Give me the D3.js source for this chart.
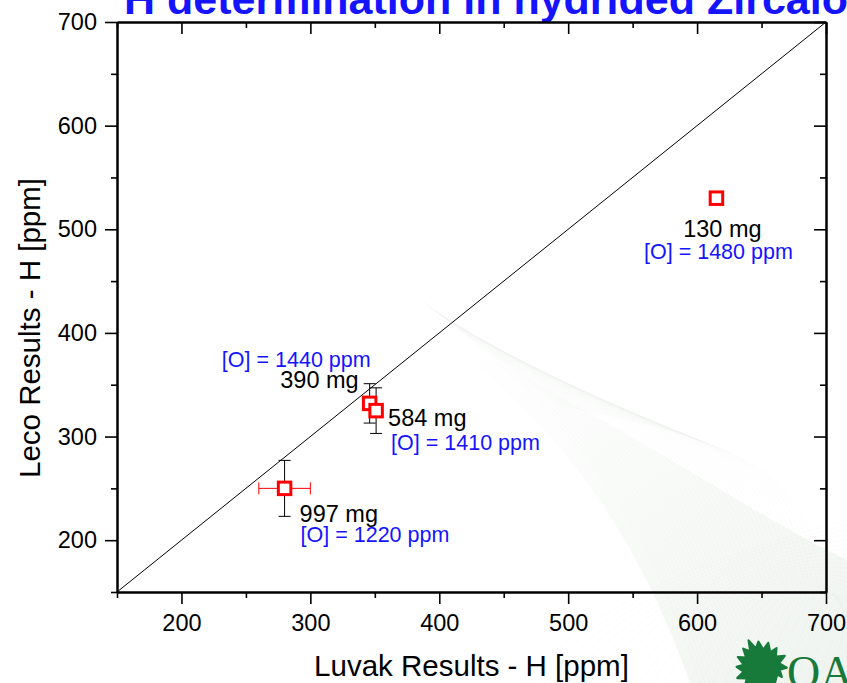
<!DOCTYPE html>
<html>
<head>
<meta charset="utf-8">
<script src="https://cdn.jsdelivr.net/npm/d3@7"></script>
<style>
  html, body { margin: 0; padding: 0; background: #fff; overflow: hidden; }
  svg { display: block; font-family: "Liberation Sans", Arial, sans-serif; }
</style>
</head>
<body>
<svg id="chart" width="847" height="683"></svg>
<script>
// Sample labels (mass) and oxygen content
const sampleMass = ["130 mg", "390 mg", "584 mg", "997 mg"];
const oxygenLabel = ["[O] = 1480 ppm", "[O] = 1440 ppm", "[O] = 1410 ppm", "[O] = 1220 ppm"];
// Hydrogen results, Luvak (x) vs Leco (y), in ppm
const luvakH = [615, 346, 351, 280];
const lecoH = [530, 332, 325, 250];
// Error bars (ppm); 0 = none
const luvakErr = [0, 0, 0, 20];
const lecoErr = [0, 19, 22, 27];
// Axis ticks
const majorTicks = [200, 300, 400, 500, 600, 700];
const minorTicks = [150, 250, 350, 450, 550, 650];
const axisDomain = [150, 700];

// Label placement relative to each marker (pixels)
const labelLayout = [
  { m: { dx: 6, dy: 39, anchor: "middle" }, o: { dx: 2, dy: 61, anchor: "middle" } },
  { m: { dx: -11, dy: -15, anchor: "end" }, o: { dx: 1, dy: -36, anchor: "end" } },
  { m: { dx: 12, dy: 15, anchor: "start" }, o: { dx: 15, dy: 39, anchor: "start" } },
  { m: { dx: 15, dy: 34, anchor: "start" }, o: { dx: 16, dy: 54, anchor: "start" } }
];

const BLUE = "#1414ff";
const svg = d3.select("#chart");
const plot = { left: 117, right: 826, top: 22, bottom: 592 };
const x = d3.scaleLinear().domain(axisDomain).range([plot.left, plot.right]);
const y = d3.scaleLinear().domain(axisDomain).range([plot.bottom, plot.top]);

// Faint background decoration (lower right swoosh)
const deco = svg.append("g");
const defs = svg.append("defs");
const grad = defs.append("linearGradient").attr("id", "swoosh").attr("x1", "0").attr("y1", "0").attr("x2", "1").attr("y2", "1");
grad.append("stop").attr("offset", "0").attr("stop-color", "#f6f9f6").attr("stop-opacity", 0);
grad.append("stop").attr("offset", "0.6").attr("stop-color", "#f1f5f1").attr("stop-opacity", 0.6);
grad.append("stop").attr("offset", "1").attr("stop-color", "#ecf2ec").attr("stop-opacity", 0.8);
deco.append("path")
  .attr("d", "M430,330 C560,420 640,540 690,683 L847,683 L847,560 C760,520 620,420 430,330 Z")
  .attr("fill", "url(#swoosh)");
for (let i = 0; i < 40; i++) {
  const s = i * 9;
  deco.append("path")
    .attr("d", `M${420 + s * 0.4},${300 + s * 0.3} C${560 + s},${400 + s * 0.2} ${650 + s * 0.3},${520 + s * 0.1} ${700 + s * 0.5},683`)
    .attr("fill", "none")
    .attr("stroke", "#c3d3c3")
    .attr("stroke-opacity", 0.1)
    .attr("stroke-width", 0.6);
}
for (let i = 0; i < 30; i++) {
  const s = i * 12;
  deco.append("path")
    .attr("d", `M${520 + s},683 C${600 + s * 0.8},600 ${700 + s * 0.5},560 847,${520 + s * 0.4}`)
    .attr("fill", "none")
    .attr("stroke", "#c3d3c3")
    .attr("stroke-opacity", 0.1)
    .attr("stroke-width", 0.6);
}

// Title (runs past the top edge)
svg.append("text")
  .attr("x", 124).attr("y", 14)
  .attr("fill", BLUE)
  .attr("font-size", 43).attr("font-weight", "bold")
  .text("H determination in hydrided Zircaloy");

// Diagonal 1:1 line
defs.append("clipPath").attr("id", "plotClip").append("rect")
  .attr("x", plot.left).attr("y", plot.top)
  .attr("width", plot.right - plot.left).attr("height", plot.bottom - plot.top);
svg.append("line")
  .attr("clip-path", "url(#plotClip)")
  .attr("x1", x(axisDomain[0])).attr("y1", y(axisDomain[0]))
  .attr("x2", x(axisDomain[1])).attr("y2", y(axisDomain[1]))
  .attr("stroke", "#000").attr("stroke-width", 1);

// Axes
function styleAxis(g) {
  g.select(".domain").attr("stroke", "#000").attr("stroke-width", 2);
  g.selectAll(".tick line").attr("stroke", "#000").attr("stroke-width", 1.6);
  g.selectAll(".tick text").attr("fill", "#000").attr("font-size", 23.5)
    .attr("font-family", "'Liberation Sans', Arial, sans-serif");
}
function addAxis(axis, tx, ty) {
  const g = svg.append("g").attr("transform", `translate(${tx},${ty})`).call(axis);
  styleAxis(g);
  return g;
}
// Bottom and left axes with outward ticks and labels
addAxis(d3.axisBottom(x).tickValues(majorTicks).tickSize(12).tickSizeOuter(0).tickPadding(10).tickFormat(d3.format("d")), 0, plot.bottom);
addAxis(d3.axisBottom(x).tickValues(minorTicks).tickSize(6).tickSizeOuter(0).tickFormat(""), 0, plot.bottom);
addAxis(d3.axisLeft(y).tickValues(majorTicks).tickSize(12).tickSizeOuter(0).tickPadding(8).tickFormat(d3.format("d")), plot.left, 0);
addAxis(d3.axisLeft(y).tickValues(minorTicks).tickSize(6).tickSizeOuter(0).tickFormat(""), plot.left, 0);
// Mirror axes with inward ticks
addAxis(d3.axisBottom(x).tickValues(majorTicks).tickSize(12).tickSizeOuter(0).tickFormat(""), 0, plot.top);
addAxis(d3.axisBottom(x).tickValues(minorTicks).tickSize(6).tickSizeOuter(0).tickFormat(""), 0, plot.top);
addAxis(d3.axisLeft(y).tickValues(majorTicks).tickSize(12).tickSizeOuter(0).tickFormat(""), plot.right, 0);
addAxis(d3.axisLeft(y).tickValues(minorTicks).tickSize(6).tickSizeOuter(0).tickFormat(""), plot.right, 0);

// Axis titles
svg.append("text")
  .attr("x", (plot.left + plot.right) / 2).attr("y", 676)
  .attr("text-anchor", "middle").attr("font-size", 29.5).attr("fill", "#000")
  .text("Luvak Results - H [ppm]");
svg.append("text")
  .attr("transform", "translate(40,328) rotate(-90)")
  .attr("text-anchor", "middle").attr("font-size", 29.5).attr("fill", "#000")
  .text("Leco Results - H [ppm]");

// Data
const data = sampleMass.map((m, i) => ({
  mass: m, oxy: oxygenLabel[i], xv: luvakH[i], yv: lecoH[i], ex: luvakErr[i], ey: lecoErr[i], lay: labelLayout[i]
}));

const cap = 6;
const errG = svg.append("g");
data.filter(d => d.ey > 0).forEach(d => {
  const cx = x(d.xv), y1 = y(d.yv + d.ey), y2 = y(d.yv - d.ey);
  errG.append("line").attr("x1", cx).attr("x2", cx).attr("y1", y1).attr("y2", y2).attr("stroke", "#000").attr("stroke-width", 1);
  errG.append("line").attr("x1", cx - cap).attr("x2", cx + cap).attr("y1", y1).attr("y2", y1).attr("stroke", "#000").attr("stroke-width", 1);
  errG.append("line").attr("x1", cx - cap).attr("x2", cx + cap).attr("y1", y2).attr("y2", y2).attr("stroke", "#000").attr("stroke-width", 1);
});
data.filter(d => d.ex > 0).forEach(d => {
  const cy = y(d.yv), x1 = x(d.xv - d.ex), x2 = x(d.xv + d.ex);
  errG.append("line").attr("x1", x1).attr("x2", x2).attr("y1", cy).attr("y2", cy).attr("stroke", "#ff0000").attr("stroke-width", 1);
  errG.append("line").attr("x1", x1).attr("x2", x1).attr("y1", cy - cap).attr("y2", cy + cap).attr("stroke", "#ff0000").attr("stroke-width", 1);
  errG.append("line").attr("x1", x2).attr("x2", x2).attr("y1", cy - cap).attr("y2", cy + cap).attr("stroke", "#ff0000").attr("stroke-width", 1);
});

const side = 12.5;
svg.append("g").selectAll("rect").data(data).join("rect")
  .attr("x", d => x(d.xv) - side / 2).attr("y", d => y(d.yv) - side / 2)
  .attr("width", side).attr("height", side)
  .attr("fill", "#fff").attr("stroke", "#ff0000").attr("stroke-width", 3);

const lbl = svg.append("g");
data.forEach(d => {
  lbl.append("text")
    .attr("x", x(d.xv) + d.lay.m.dx).attr("y", y(d.yv) + d.lay.m.dy)
    .attr("text-anchor", d.lay.m.anchor).attr("font-size", 23.5).attr("fill", "#000")
    .text(d.mass);
  lbl.append("text")
    .attr("x", x(d.xv) + d.lay.o.dx).attr("y", y(d.yv) + d.lay.o.dy)
    .attr("text-anchor", d.lay.o.anchor).attr("font-size", 21.5).attr("fill", BLUE)
    .text(d.oxy);
});

// Oak-leaf logo mark in the lower right corner
const logo = svg.append("g").attr("transform", "translate(761,667) rotate(-25) scale(1.05)");
logo.append("path")
  .attr("d", "M0,27 L1,17 L6,19 L11,13 L14,17 L15,10 L22,11 L17,4 L25,0 L17,-3 L21,-10 L14,-9 L16,-18 L9,-14 L8,-23 L3,-18 L0,-28 L-3,-18 L-8,-23 L-9,-14 L-16,-18 L-14,-9 L-21,-10 L-17,-3 L-25,0 L-17,4 L-22,11 L-15,10 L-14,17 L-11,13 L-6,19 L-1,17 L-1,27 Z")
  .attr("fill", "#177a3a")
  .attr("stroke", "#177a3a").attr("stroke-width", 2).attr("stroke-linejoin", "round");
svg.append("text")
  .attr("x", 787).attr("y", 688)
  .attr("font-family", "'Liberation Serif', 'Times New Roman', serif")
  .attr("font-size", 46).attr("fill", "#177a3a")
  .text("OAK RIDGE");
</script>
</body>
</html>
